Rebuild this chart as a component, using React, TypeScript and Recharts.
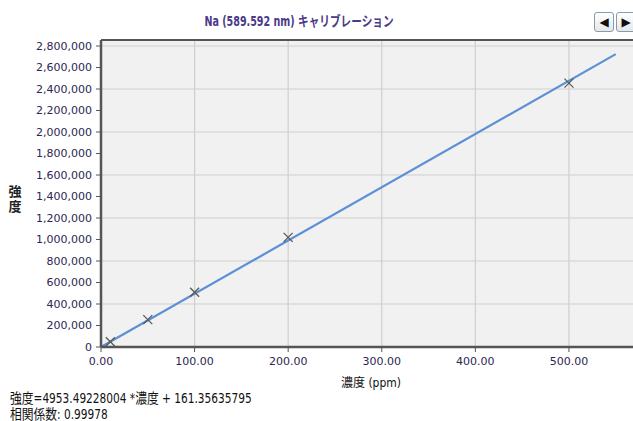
import { ComposedChart, Line, Scatter, XAxis, YAxis, CartesianGrid, ReferenceLine } from 'recharts';

// calibration standards: concentration (ppm) vs intensity
const standardConc = [10, 50, 100, 200, 500];
const standardIntensity = [49500, 255000, 510000, 1020000, 2455000];

// fitted line endpoints (強度 = 4953.49 * 濃度 + 161.36)
const fitConc = [0, 550];
const fitIntensity = [161, 2724582];

const xTicks = [0, 100, 200, 300, 400, 500];
const xMinorTicks = [0, 25, 50, 75, 100, 125, 150, 175, 200, 225, 250, 275, 300, 325, 350, 375, 400, 425, 450, 475, 500, 525, 550, 575];
const yTicks = [0, 200000, 400000, 600000, 800000, 1000000, 1200000, 1400000, 1600000, 1800000, 2000000, 2200000, 2400000, 2600000, 2800000];
const yMinorTicks = Array.from({ length: 58 }, (_, i) => i * 50000);

const points = standardConc.map((x, i) => ({ x, y: standardIntensity[i] }));
const fit = fitConc.map((x, i) => ({ x, y: fitIntensity[i] }));

const narrow = "'Liberation Sans Narrow', 'DejaVu Sans Condensed', 'Noto Sans CJK JP', sans-serif";
const tickFont = "'DejaVu Sans', 'Noto Sans CJK JP', sans-serif";

const CrossMark = (props: any) => {
  const { cx, cy } = props;
  const r = 4.5;
  return (
    <g stroke="#5a5a5a" strokeWidth={1.3}>
      <line x1={cx - r} y1={cy - r} x2={cx + r} y2={cy + r} />
      <line x1={cx - r} y1={cy + r} x2={cx + r} y2={cy - r} />
    </g>
  );
};

const navBtn: React.CSSProperties = {
  position: 'absolute',
  top: 12,
  width: 18,
  height: 18,
  border: '1px solid #8e9aa6',
  borderRadius: 3,
  background: 'linear-gradient(#ffffff, #e4e8ec)',
  fontSize: 12,
  lineHeight: '18px',
  textAlign: 'center',
  color: '#111',
  fontFamily: "'DejaVu Sans', sans-serif",
};

export default function App() {
  return (
    <div style={{ position: 'fixed', left: 0, top: 0, width: 633, height: 421, overflow: 'hidden', background: '#fff' }}>
      <div style={{ position: 'absolute', left: 0, width: 598, top: 10, textAlign: 'center', fontFamily: narrow, fontSize: 14, fontWeight: 'bold', color: '#4a3a8a', transform: 'scaleX(0.76)' }}>
        Na (589.592 nm) キャリブレーション
      </div>
      <div style={{ ...navBtn, left: 594 }}>◀</div>
      <div style={{ ...navBtn, left: 616 }}>▶</div>

      <ComposedChart width={641} height={421} margin={{ top: 40, right: 0, left: 0, bottom: 34 }}>
        <CartesianGrid fill="#f1f1f1" stroke="#cfcfcf" strokeWidth={1.2} horizontalValues={yTicks} verticalValues={xTicks} />
        <XAxis xAxisId="minor" type="number" dataKey="x" domain={[0, 577]} ticks={xMinorTicks} height={0}
          axisLine={false} tickLine={{ stroke: '#666' }} tickSize={3} tickFormatter={() => ''} />
        <XAxis type="number" dataKey="x" domain={[0, 577]} ticks={xTicks} height={40}
          axisLine={{ stroke: '#555', strokeWidth: 2.5 }} tickLine={{ stroke: '#555' }} tickSize={5} tickMargin={5}
          tickFormatter={(v: number) => v.toFixed(2)}
          tick={{ fill: '#2c2652', fontSize: 11, fontFamily: tickFont }}
          label={{ value: '濃度 (ppm)', position: 'insideBottom', offset: 0, fill: '#111', fontSize: 12, fontFamily: narrow }} />
        <YAxis yAxisId="minor" type="number" domain={[0, 2856000]} ticks={yMinorTicks} width={0}
          axisLine={false} tickLine={{ stroke: '#666' }} tickSize={3} tickFormatter={() => ''} />
        <YAxis type="number" dataKey="y" domain={[0, 2856000]} ticks={yTicks} width={101}
          axisLine={{ stroke: '#555', strokeWidth: 2.5 }} tickLine={{ stroke: '#555' }} tickSize={5} tickMargin={4}
          tickFormatter={(v: number) => v.toLocaleString('en-US')}
          tick={{ fill: '#2c2652', fontSize: 11, fontFamily: tickFont }}
          label={{
            content: (p: any) => {
              const vb = p.viewBox;
              const cy = vb.y + vb.height / 2;
              return (
                <text x={15} y={cy + 2} textAnchor="middle" fill="#222" fontSize={13} fontWeight="bold" fontFamily={narrow}>
                  <tspan x={15}>強</tspan>
                  <tspan x={15} dy={15}>度</tspan>
                </text>
              );
            },
          }} />
        <ReferenceLine y={2856000} stroke="#555" strokeWidth={2} />
        <Line data={fit} dataKey="y" stroke="#5b8fd6" strokeWidth={2.2} dot={false} isAnimationActive={false} />
        <Scatter data={points} dataKey="y" shape={<CrossMark />} isAnimationActive={false} />
      </ComposedChart>

      <div style={{ position: 'absolute', left: 10, top: 390, fontFamily: narrow, fontSize: 14, color: '#111', lineHeight: '16px', transformOrigin: 'left top', transform: 'scaleX(0.84)', whiteSpace: 'nowrap' }}>
        <div>強度=4953.49228004 *濃度 + 161.35635795</div>
        <div>相関係数: 0.99978</div>
      </div>
    </div>
  );
}
